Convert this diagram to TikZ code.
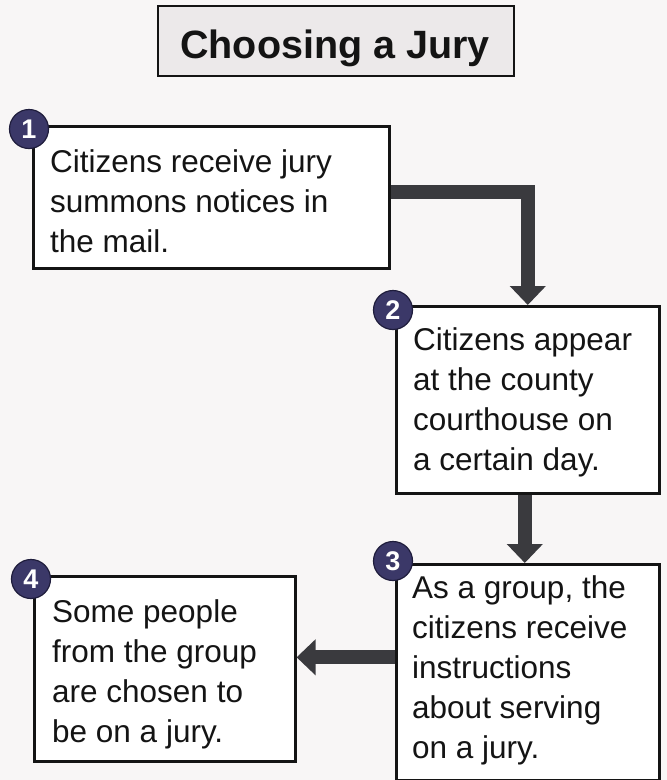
\documentclass[tikz,border=0pt]{standalone}
\usepackage{fontspec}
\setmainfont{Liberation Sans}
\usetikzlibrary{arrows.meta}
\definecolor{bgc}{HTML}{F8F6F6}
\definecolor{titlefill}{HTML}{ECE9EA}
\definecolor{badgefill}{HTML}{3B3868}
\definecolor{badgeline}{HTML}{1F1D3C}
\definecolor{arrowc}{HTML}{3A3A3E}
\definecolor{ink}{HTML}{141414}
\tikzset{
  stepbox/.style={draw=ink, line width=2.6pt, fill=white, anchor=north west, inner sep=0pt},
  steptext/.style={anchor=base west, align=left, inner sep=0pt, text=ink,
    font=\fontsize{31.5}{40}\selectfont},
  badge/.style={circle, fill=badgefill, draw=badgeline, line width=1.2pt, minimum size=39pt,
    inner sep=0pt, text=white, font=\fontsize{27}{27}\selectfont\bfseries},
  flow/.style={draw=arrowc, line width=14pt, line join=miter,
    -{Triangle[width=35pt,length=19pt]}}
}
\begin{document}
\begin{tikzpicture}[x=1pt,y=-1pt]
\useasboundingbox[fill=bgc] (0,0) rectangle (667,780);
% title
\node[draw=ink, line width=2.4pt, fill=titlefill, minimum width=356pt, minimum height=70pt,
  inner sep=0pt, anchor=north west] (title) at (157,5) {};
\node[anchor=base, inner sep=0pt, text=ink, font=\fontsize{39.5}{40}\selectfont\bfseries]
  (titletext) at (335,58) {Choosing a Jury};
% boxes
\node[stepbox, minimum width=356pt, minimum height=142pt] (b1) at (32,125) {};
\node[stepbox, minimum width=263pt, minimum height=187pt] (b2) at (395,305) {};
\node[stepbox, minimum width=263pt, minimum height=216pt] (b3) at (395,563) {};
\node[stepbox, minimum width=261pt, minimum height=185pt] (b4) at (33,575) {};
% texts (anchored at the baseline of the last line)
\node[steptext] (t1) at (50,252) {Citizens receive jury\\summons notices in\\the mail.};
\node[steptext] (t2) at (413,470) {Citizens appear\\at the county\\courthouse on\\a certain day.};
\node[steptext] (t3) at (412,758) {As a group, the\\citizens receive\\instructions\\about serving\\on a jury.};
\node[steptext] (t4) at (52,742) {Some people\\from the group\\are chosen to\\be on a jury.};
% connectors
\draw[flow] ([yshift=5pt]b1.east) -| (b2.north);
\draw[flow] ([xshift=-3pt]b2.south) -- ([xshift=-3pt]b3.north);
\draw[flow] ([yshift=15pt]b3.west) -- ([yshift=15pt]b3.west -| b4.east);
% badges
\node[badge] (n1) at (29,129) {1};
\node[badge] (n2) at (393,310) {2};
\node[badge] (n3) at (393,561) {3};
\node[badge] (n4) at (31,579) {4};
\end{tikzpicture}
\end{document}
